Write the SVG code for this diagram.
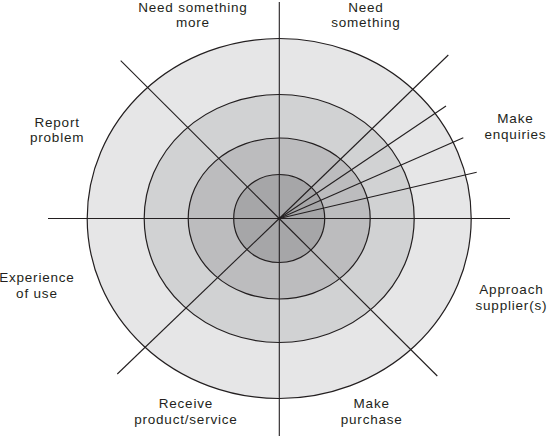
<svg xmlns="http://www.w3.org/2000/svg" width="550" height="436" viewBox="0 0 550 436">
<style>
.ring{stroke:#231f20;stroke-width:1.2}
.ln{stroke:#231f20;stroke-width:1.1;fill:none}
text{font-family:"Liberation Sans",Arial,sans-serif;font-size:13.5px;letter-spacing:0.8px;fill:#231f20;text-anchor:middle}
</style>
<rect width="550" height="436" fill="#ffffff"/>
<g id="rings">
<ellipse id="ring-outer" class="ring" cx="279.2" cy="218.5" rx="192" ry="180" fill="#e6e6e7"/>
<ellipse id="ring-2" class="ring" cx="279.2" cy="218.5" rx="135" ry="124" fill="#d1d2d3"/>
<ellipse id="ring-3" class="ring" cx="279.2" cy="218.5" rx="91" ry="80.5" fill="#bcbcbe"/>
<ellipse id="ring-inner" class="ring" cx="279.2" cy="218.5" rx="45.5" ry="44" fill="#a6a6a8"/>
</g>
<g id="connectors">
<line class="ln" x1="48" y1="218.5" x2="510" y2="218.5"/>
<line class="ln" x1="279.3" y1="2" x2="279.3" y2="436"/>
<line class="ln" x1="120.7" y1="60.7" x2="279.2" y2="218.5"/>
<line class="ln" x1="448.3" y1="55" x2="279.2" y2="218.5"/>
<line class="ln" x1="117.3" y1="374" x2="279.2" y2="218.5"/>
<line class="ln" x1="437.3" y1="376" x2="279.2" y2="218.5"/>
<line class="ln" x1="446" y1="106" x2="279.2" y2="218.5"/>
<line class="ln" x1="463.3" y1="137.7" x2="279.2" y2="218.5"/>
<line class="ln" x1="476.7" y1="172.3" x2="279.2" y2="218.5"/>
</g>
<g id="label-need-more"><text x="192.9" y="11.7">Need something</text><text x="192.9" y="27.3">more</text></g>
<g id="label-need"><text x="365.9" y="11.7">Need</text><text x="365.9" y="27.3">something</text></g>
<g id="label-enquiries"><text x="515.4" y="123.3">Make</text><text x="515.4" y="139">enquiries</text></g>
<g id="label-report"><text x="57.1" y="126.7">Report</text><text x="57.1" y="142.3">problem</text></g>
<g id="label-experience"><text x="36.9" y="282.3">Experience</text><text x="36.9" y="297.8">of use</text></g>
<g id="label-approach"><text x="511.4" y="294">Approach</text><text x="511.4" y="309.8">supplier(s)</text></g>
<g id="label-receive"><text x="185.9" y="407.7">Receive</text><text x="185.9" y="423.8">product/service</text></g>
<g id="label-purchase"><text x="371.7" y="407.7">Make</text><text x="371.7" y="423.8">purchase</text></g>
</svg>
